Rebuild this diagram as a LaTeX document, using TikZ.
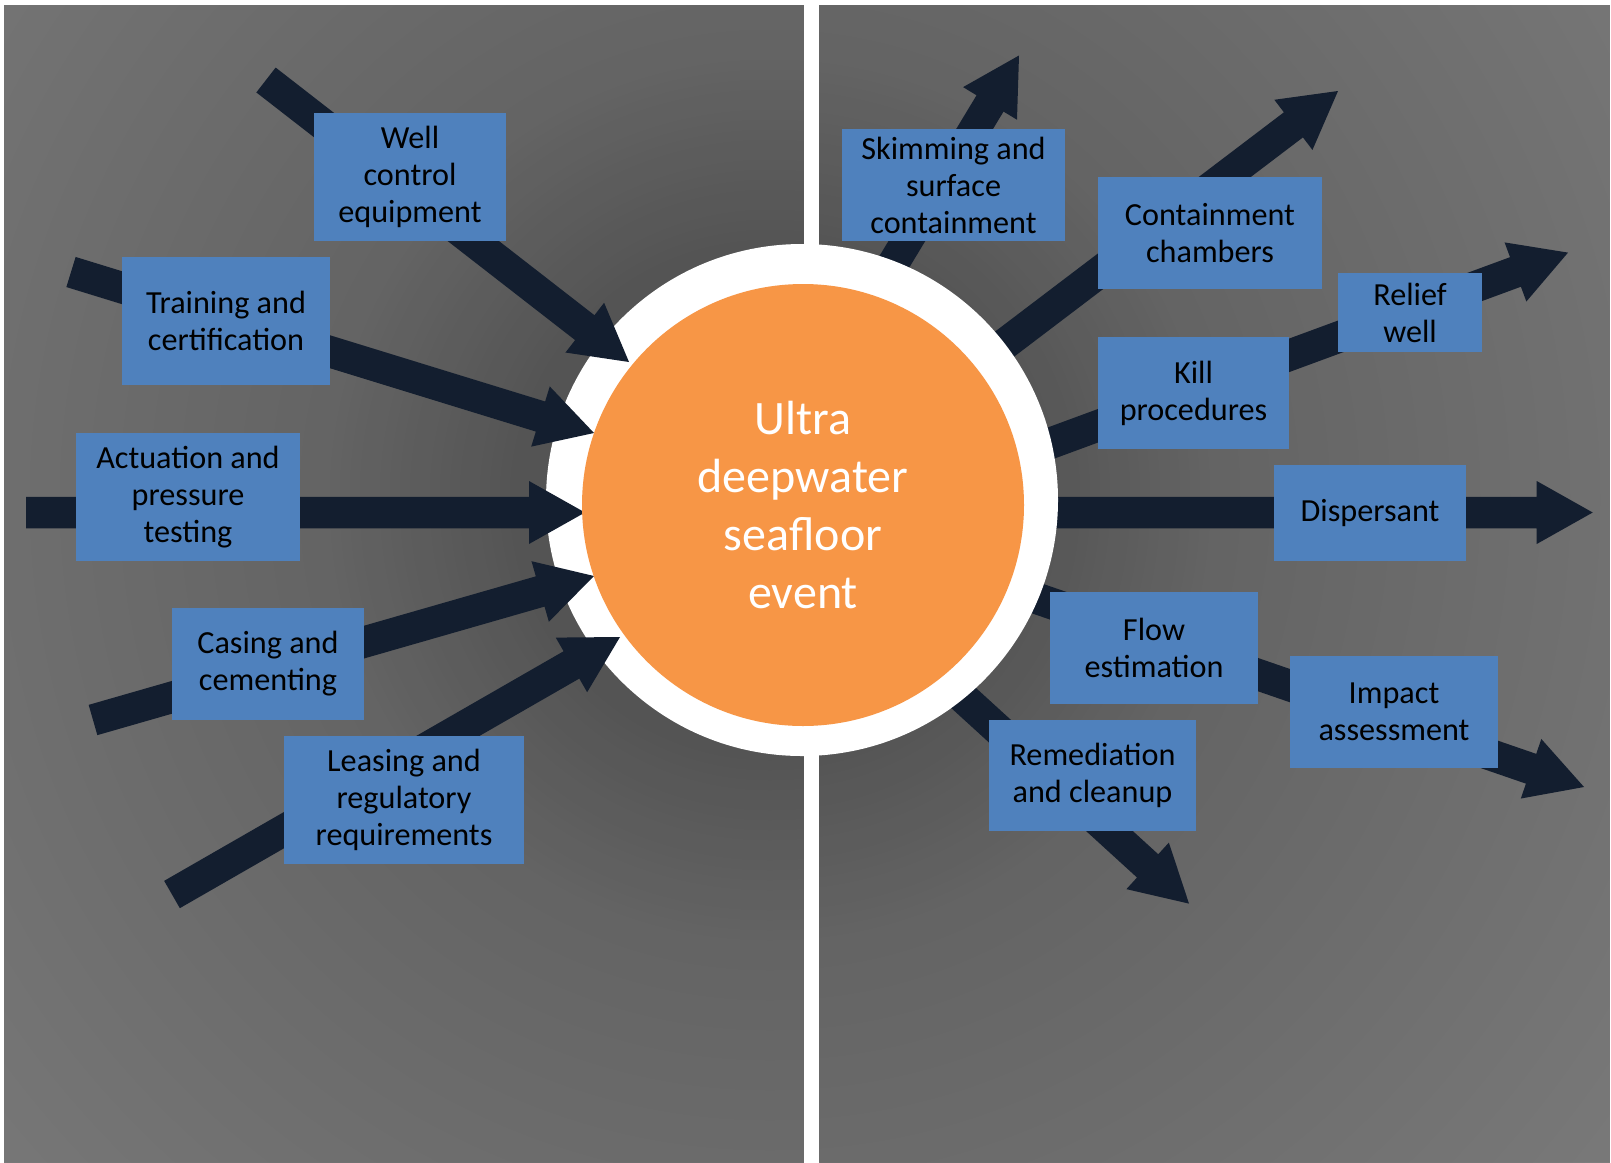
\documentclass[tikz,border=0pt]{standalone}
\usepackage{fontspec}
\setmainfont{Carlito}
\usetikzlibrary{calc}
\definecolor{boxblue}{HTML}{4F81BD}
\definecolor{arrowfill}{HTML}{131E2F}
\definecolor{orangec}{HTML}{F79646}
\newcommand{\fatarrow}[2]{%
  \coordinate (neck) at ($(#2)!56pt!(#1)$);
  \fill[arrowfill] ($(#1)!15.75pt!90:(#2)$) -- ($(neck)!15.75pt!-90:(#1)$)
    -- ($(neck)!31.5pt!-90:(#1)$) -- (#2) -- ($(neck)!31.5pt!90:(#1)$)
    -- ($(neck)!15.75pt!90:(#1)$) -- ($(#1)!15.75pt!-90:(#2)$) -- cycle;
}
\tikzset{
  lbl/.style={fill=boxblue, inner sep=0pt, align=center, text=black,
    font=\fontsize{32.2}{37}\selectfont},
}
\begin{document}
\begin{tikzpicture}[x=1pt,y=-1pt]
\useasboundingbox (0,0) rectangle (1611,1162);
\fill[white] (0,0) rectangle (1611,1162);
% background panels with radial gradient
\begin{scope}
  \clip (4,5) rectangle (803.5,1162) (819.5,5) rectangle (1610,1162);
  \foreach \r in {1300,1290,...,10} {
    \pgfmathtruncatemacro\g{\r<=250 ? 84 : (\r<=450 ? 84+(\r-250)*0.08 : min(128,100+(\r-450)*0.0338))}
    \definecolor{tmpg}{RGB}{\g,\g,\g}
    \fill[tmpg] (770,500) circle[radius=\r pt];
  }
\end{scope}
% arrow end points
\coordinate (ta) at (266,80);    \coordinate (pa) at (629,362);
\coordinate (tb) at (71,272);    \coordinate (pb) at (594,433);
\coordinate (tc) at (26,512.5);  \coordinate (pc) at (585,512.5);
\coordinate (td) at (93,720);    \coordinate (pd) at (594,576);
\coordinate (te) at (172,894.5); \coordinate (pe) at (620,637);
\coordinate (tf) at (838,355);   \coordinate (pf) at (1019,55.5);
\coordinate (tg) at (956,381);   \coordinate (pg) at (1338,91);
\coordinate (th) at (1005,460);  \coordinate (ph) at (1568,252.6);
\coordinate (ti) at (1000,512.5);\coordinate (pi) at (1592.7,512.5);
\coordinate (tj) at (998,585);   \coordinate (pj) at (1584,787);
\coordinate (tk) at (923,661);   \coordinate (pk) at (1189,903.6);
% outgoing arrows (behind the ring)
\fatarrow{tf}{pf}
\fatarrow{tg}{pg}
\fatarrow{th}{ph}
\fatarrow{ti}{pi}
\fatarrow{tj}{pj}
\fatarrow{tk}{pk}
% white ring
\node[circle, fill=white, minimum size=512pt, inner sep=0pt] (ring) at (802,500) {};
% incoming arrows
\fatarrow{ta}{pa}
\fatarrow{tb}{pb}
\fatarrow{tc}{pc}
\fatarrow{td}{pd}
\fatarrow{te}{pe}
% core
\node[circle, fill=orangec, minimum size=442pt, inner sep=0pt, align=center,
  text=white, font=\fontsize{48}{58}\selectfont] (core) at (803,505)
  {Ultra\\deepwater\\seafloor\\event};
% boxes
\node[lbl, minimum width=192pt, minimum height=128pt] (well) at (410,177) {Well\\control\\equipment};
\node[lbl, minimum width=208pt, minimum height=128pt] (train) at (226,321) {Training and\\certification};
\node[lbl, minimum width=224pt, minimum height=128pt] (act) at (188,497) {Actuation and\\pressure\\testing};
\node[lbl, minimum width=192pt, minimum height=112pt] (casing) at (268,664) {Casing and\\cementing};
\node[lbl, minimum width=240pt, minimum height=128pt] (leasing) at (404,800) {Leasing and\\regulatory\\requirements};
\node[lbl, minimum width=223pt, minimum height=112pt] (skim) at (953.5,185) {Skimming and\\surface\\containment};
\node[lbl, minimum width=224pt, minimum height=112pt] (cham) at (1210,233) {Containment\\chambers};
\node[lbl, minimum width=144pt, minimum height=79pt] (relief) at (1410,312.5) {Relief\\well};
\node[lbl, minimum width=191pt, minimum height=112pt] (kill) at (1193.5,393) {Kill\\procedures};
\node[lbl, minimum width=192pt, minimum height=96pt] (disp) at (1370,513) {Dispersant};
\node[lbl, minimum width=208pt, minimum height=112pt] (flow) at (1154,648) {Flow\\estimation};
\node[lbl, minimum width=208pt, minimum height=112pt] (impact) at (1394,712) {Impact\\assessment};
\node[lbl, minimum width=207pt, minimum height=111pt] (remed) at (1092.5,775.5) {Remediation\\and cleanup};
\end{tikzpicture}
\end{document}
